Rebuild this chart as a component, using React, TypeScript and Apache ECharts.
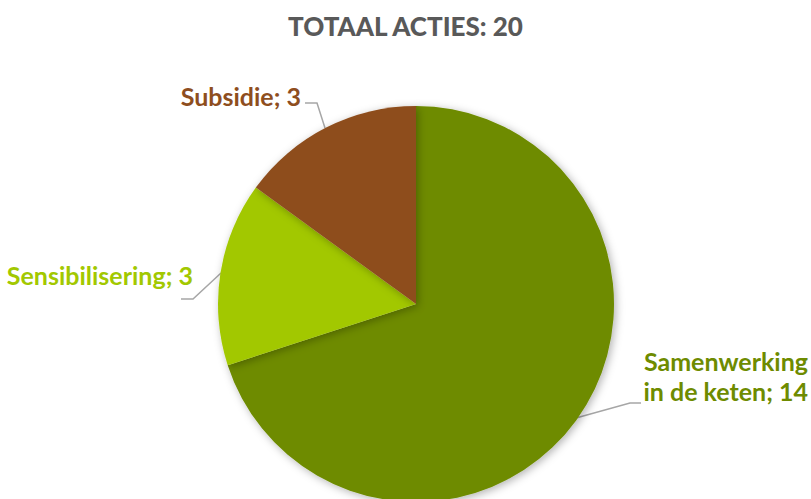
import React, { useEffect, useRef } from "react";
import * as echarts from "echarts";

const titleText = "TOTAAL ACTIES: 20";
const categories = ["Samenwerking\nin de keten", "Sensibilisering", "Subsidie"];
const values = [14, 3, 3];
const colors = ["#6E8B00", "#A2C800", "#8E4E1E"];

export default function App() {
  const ref = useRef<HTMLDivElement>(null);
  useEffect(() => {
    if (!ref.current) return;
    const chart = echarts.init(ref.current, null, { renderer: "svg" });
    const font = "Lato, 'Open Sans', sans-serif";
    const layouts: any[] = [
      { x: 808, y: 376, align: "right", verticalAlign: "middle", labelLinePoints: [[576, 418], [630, 403], [641, 403]] },
      { x: 193, y: 275, align: "right", verticalAlign: "middle", labelLinePoints: [[221, 273], [193, 299], [181, 299]] },
      { x: 301, y: 96, align: "right", verticalAlign: "middle", labelLinePoints: [[325, 128], [317, 103], [305, 103]] },
    ];
    chart.setOption({
      animation: false,
      title: {
        text: titleText,
        left: "center",
        top: 8,
        textStyle: { fontFamily: font, fontWeight: 900, fontSize: 26, color: "#595959" },
      },
      series: [
        {
          type: "pie",
          center: [416, 304],
          radius: 198,
          startAngle: 90,
          clockwise: true,
          avoidLabelOverlap: false,
          data: categories.map((c, i) => ({
            name: c,
            value: values[i],
            itemStyle: { color: colors[i] },
            label: { color: colors[i] },
          })),
          itemStyle: {
            shadowBlur: 8,
            shadowColor: "rgba(0,0,0,0.3)",
            shadowOffsetX: 2,
            shadowOffsetY: 2,
          },
          label: {
            show: true,
            position: "outside",
            formatter: (p: any) => p.name + "; " + p.value,
            fontFamily: font,
            fontWeight: "bold",
            fontSize: 25,
            lineHeight: 30,
            align: "right",
            overflow: "none",
            width: 300,
          },
          labelLine: { show: true, lineStyle: { color: "#A6A6A6", width: 1.5 } },
          labelLayout: (p: any) => layouts[p.dataIndex],
          emphasis: { disabled: true },
        },
      ],
    });
    return () => chart.dispose();
  }, []);
  return <div ref={ref} style={{ position: "absolute", left: 0, top: 0, width: 811, height: 499 }} />;
}
